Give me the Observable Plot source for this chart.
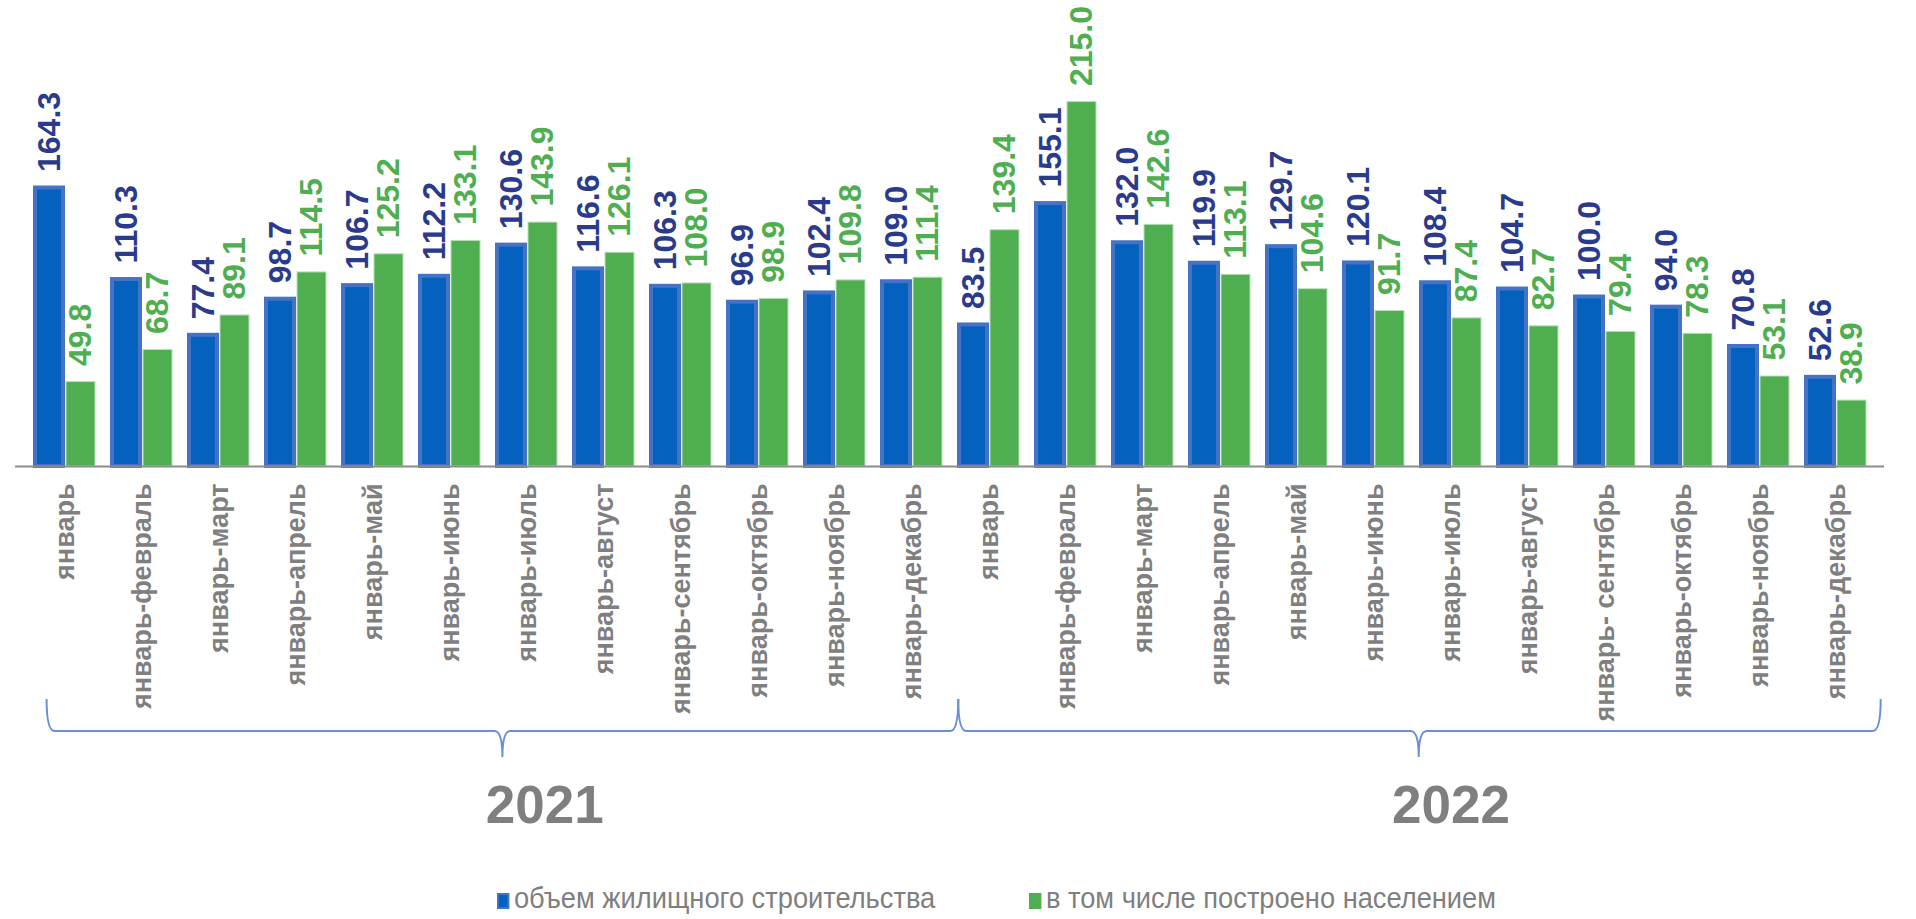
<!DOCTYPE html>
<html><head><meta charset="utf-8">
<script src="https://cdn.jsdelivr.net/npm/d3@7"></script>
<script src="https://cdn.jsdelivr.net/npm/@observablehq/plot@0.6"></script>
<style>
body{margin:0;background:#fff;font-family:"Liberation Sans",Arial,sans-serif;overflow:hidden;}
#chart svg{display:block;overflow:visible}
#legend{position:relative;width:1916px;height:39px;color:#7F7F7F;font-size:29px;}
.item{position:absolute;top:2px;white-space:nowrap;line-height:32px;transform-origin:0 50%;transform:scaleX(0.94);font-family:"Liberation Sans",Arial,sans-serif;}
.sw{display:inline-block;width:13px;height:16px;vertical-align:-1px;margin-right:5px;box-sizing:border-box;}
</style></head><body><div id="chart"></div><div id="legend"></div>
<script>
const years = ["2021", "2022"];
const periods2021 = ["январь","январь-февраль","январь-март","январь-апрель","январь-май","январь-июнь","январь-июль","январь-август","январь-сентябрь","январь-октябрь","январь-ноябрь","январь-декабрь"];
const periods2022 = ["январь","январь-февраль","январь-март","январь-апрель","январь-май","январь-июнь","январь-июль","январь-август","январь- сентябрь","январь-октябрь","январь-ноябрь","январь-декабрь"];
const volume2021 = [164.3,110.3,77.4,98.7,106.7,112.2,130.6,116.6,106.3,96.9,102.4,109.0];
const population2021 = [49.8,68.7,89.1,114.5,125.2,133.1,143.9,126.1,108.0,98.9,109.8,111.4];
const volume2022 = [83.5,155.1,132.0,119.9,129.7,120.1,108.4,104.7,100.0,94.0,70.8,52.6];
const population2022 = [139.4,215.0,142.6,113.1,104.6,91.7,87.4,82.7,79.4,78.3,53.1,38.9];
const seriesNames = ["объем жилищного строительства", "в том числе построено населением"];

const BLUE = "#0561BE", BLUE_EDGE = "#4472C4", GREEN = "#4EAE50", BLUE_TXT = "#2A3A8C", GRAY = "#7F7F7F";

const cats = [], blueRows = [], greenRows = [];
years.forEach((yr, yi) => {
  const periods = yi === 0 ? periods2021 : periods2022;
  const vol = yi === 0 ? volume2021 : volume2022;
  const pop = yi === 0 ? population2021 : population2022;
  periods.forEach((p, i) => {
    const id = yr + "-" + i;
    cats.push({id, label: p, year: yr});
    blueRows.push({id, value: vol[i]});
    greenRows.push({id, value: pop[i]});
  });
});

const W = 1916, H = 880;
const plot = Plot.plot({
  width: W, height: H,
  marginLeft: 15, marginRight: 32, marginTop: 0, marginBottom: 0,
  x: {domain: cats.map(d => d.id), padding: 0, axis: null},
  y: {domain: [0, 250], range: [466, 466 - 250 * 1.695], axis: null},
  style: {fontFamily: "'Liberation Sans', Arial, sans-serif", background: "white", overflow: "visible"},
  marks: [
    Plot.barY(blueRows, {x: "id", y: "value", fill: BLUE, stroke: BLUE_EDGE, strokeWidth: 4, insetLeft: 9, insetRight: 40}),
    Plot.barY(greenRows, {x: "id", y: "value", fill: GREEN, stroke: "#B9E0B9", strokeWidth: 1, insetLeft: 40, insetRight: 8}),
    Plot.ruleY([0], {stroke: "#8C8C8C", strokeWidth: 2}),
    Plot.text(blueRows, {x: "id", y: "value", text: d => d.value.toFixed(1), rotate: -90, textAnchor: "start", dx: -15.5, dy: -16, fill: BLUE_TXT, fontSize: 32, fontWeight: "bold"}),
    Plot.text(greenRows, {x: "id", y: "value", text: d => d.value.toFixed(1), rotate: -90, textAnchor: "start", dx: 15.5, dy: -16, fill: GREEN, fontSize: 32, fontWeight: "bold"}),
    Plot.text(cats, {x: "id", y: d => 0, text: "label", rotate: -90, textAnchor: "end", dy: 17, fill: GRAY, fontSize: 27, fontWeight: "bold"})
  ]
});
document.getElementById("chart").appendChild(plot);

// braces and year labels, positioned in band units of the x scale
const xs = plot.scale("x");
const bx = u => xs.range[0] + u * xs.step;
const braces = [[0.41, 6.33, 12.25], [12.25, 18.23, 24.23]];
const yearCenter = [6.88, 18.65];
const yTop = 699, yLine = 731, yTip = 757, r = 8;
const svg = d3.select(plot);
braces.forEach(([a, t, b], i) => {
  const x0 = bx(a), xt = bx(t), x1 = bx(b);
  const p = `M${x0},${yTop} Q${x0},${yLine} ${x0 + r},${yLine} L${xt - r},${yLine} Q${xt},${yLine} ${xt},${yTip} Q${xt},${yLine} ${xt + r},${yLine} L${x1 - r},${yLine} Q${x1},${yLine} ${x1},${yTop}`;
  svg.append("path").attr("d", p).attr("fill", "none").attr("stroke", "#6A8FD4").attr("stroke-width", 2);
  svg.append("text").attr("x", bx(yearCenter[i])).attr("y", 823).attr("fill", GRAY)
    .attr("text-anchor", "middle")
    .attr("font-size", 53).attr("font-weight", "bold").attr("font-family", "'Liberation Sans', Arial, sans-serif")
    .text(years[i]);
});

// legend
const lg = document.getElementById("legend");
const legendItems = [{name: seriesNames[0], left: 497, fill: BLUE, edge: BLUE_EDGE}, {name: seriesNames[1], left: 1029, fill: GREEN, edge: GREEN}];
legendItems.forEach(it => {
  const s = document.createElement("div");
  s.className = "item";
  s.style.left = it.left + "px";
  s.innerHTML = `<span class="sw" style="background:${it.fill};border:2px solid ${it.edge}"></span>${it.name}`;
  lg.appendChild(s);
});
</script></body></html>
